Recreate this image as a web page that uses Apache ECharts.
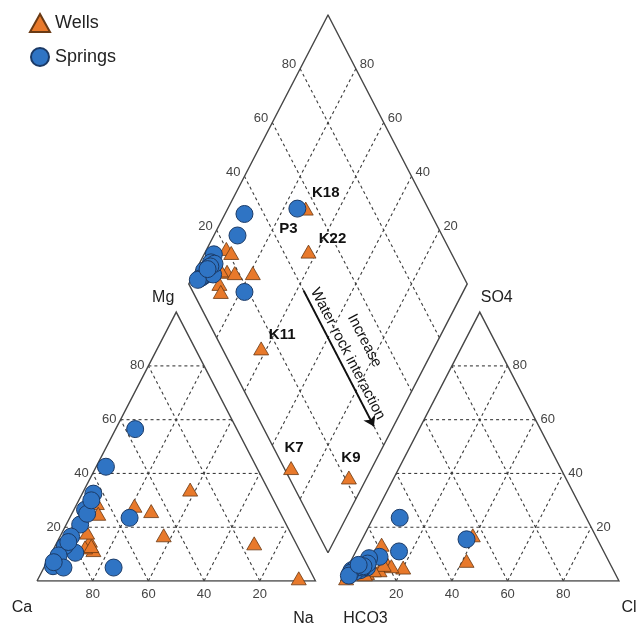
<!DOCTYPE html>
<html>
<head>
<meta charset="utf-8">
<script src="https://cdn.jsdelivr.net/npm/echarts@6/dist/echarts.min.js"></script>
<style>
  html, body { margin: 0; padding: 0; background: #ffffff; }
  #chart { width: 640px; height: 626px; }
</style>
</head>
<body>
<div id="chart"></div>
<script>
// ---- Major-ion composition (% of total meq) ----
const wellNames = ['K9', 'K7', 'K11', 'K22', 'K18', '', '', '', '', '', '', '', ''];
const wellCa    = [5.5, 15, 28, 46, 46, 51, 64, 65.5, 73.5, 74, 76.5, 73, 74];
const wellMg    = [1, 14, 34, 17, 26, 28, 29, 25, 15, 11.5, 12.5, 18, 13];
const wellNa    = [93.5, 71, 38, 37, 28, 21, 7, 9.5, 11.5, 14.5, 11, 9, 13];
const wellHCO3  = [78.5, 97.5, 86, 51, 44, 75, 80, 79, 84, 81.5, 89, 86, 90];
const wellSO4   = [13.5, 1, 5, 7.5, 17, 5, 6, 5.5, 4, 6, 3, 4, 2.5];
const wellCl    = [8, 1.5, 9, 41.5, 39, 20, 14, 15.5, 12, 12.5, 8, 10, 7.5];

const springNames = ['', '', 'P3', '', '', '', '', '', '', '', '', '', '', '', '', '', ''];
const springCa    = [36.5, 81, 70, 55, 54, 63.5, 69.5, 74, 79.5, 83.5, 87.5, 91.5, 88, 69.5, 65.5, 90.5, 81.5];
const springMg    = [56.5, 10.5, 5, 23.5, 42.5, 32.5, 26.5, 21, 16.5, 13, 9.5, 5.5, 5, 25, 30, 7, 14.5];
const springNa    = [7, 8.5, 25, 21.5, 3.5, 4, 4, 5, 4, 3.5, 3, 3, 7, 5.5, 4.5, 2.5, 4];
const springHCO3  = [67, 73.5, 47, 81.5, 85.5, 88, 90, 91, 93, 94, 92, 95, 89.5, 87, 89, 96, 90.5];
const springSO4   = [23.5, 11, 15.5, 9, 8.5, 5, 4.5, 4, 3.5, 4, 5, 3, 5, 6.5, 5.5, 2, 6];
const springCl    = [9.5, 15.5, 37.5, 9.5, 6, 7, 5.5, 5, 3.5, 2, 3, 2, 5.5, 6.5, 5.5, 2, 3.5];

const tickValues = [20, 40, 60, 80];

// ---- Piper geometry (ternary units: triangle side = 100) ----
const GAP = 9;              // space between cation and anion triangles
const DIAMOND_LIFT = 10.5;  // height of the diamond's lower vertex
const RIGHT0 = 100 + GAP;   // x of the anion triangle's HCO3 corner

function cation(ca, mg, na) {
  const t = ca + mg + na;
  const m = mg / t * 100, n = na / t * 100;
  return [n + m / 2, m];
}
function anion(hco3, so4, cl) {
  const t = hco3 + so4 + cl;
  const s = so4 / t * 100, c = cl / t * 100;
  return [RIGHT0 + c + s / 2, s];
}
// na: Na share of cations, hco3: HCO3 share of anions
function diamond(na, hco3) {
  const bx = 100 + GAP / 2;
  return [bx + (na - hco3) / 2, DIAMOND_LIFT + 200 - na - hco3];
}
function pct(v, a, b, c) { return v / (a + b + c) * 100; }

// label offsets for the named samples (px)
const labelOffsets = { K18: [20, -16], P3: [-9, 20], K22: [24, -13], K11: [21, -14], K7: [3, -20], K9: [2, -20] };

function buildPoints(names, ca, mg, na, hco3, so4, cl) {
  const pts = [];
  for (let i = 0; i < ca.length; i++) {
    pts.push({ value: cation(ca[i], mg[i], na[i]) });
    pts.push({ value: anion(hco3[i], so4[i], cl[i]) });
    const item = { value: diamond(pct(na[i], ca[i], mg[i], na[i]), pct(hco3[i], hco3[i], so4[i], cl[i])) };
    if (names[i]) {
      item.label = {
        show: true, formatter: names[i], position: 'inside', offset: labelOffsets[names[i]],
        fontFamily: 'Liberation Sans, Arial, sans-serif', fontWeight: 'bold', fontSize: 15, color: '#111'
      };
    }
    pts.push(item);
  }
  return pts;
}

// ---- frame and grid lines ----
const outlines = [
  { coords: [cation(100, 0, 0), cation(0, 0, 100), cation(0, 100, 0), cation(100, 0, 0)] },
  { coords: [anion(100, 0, 0), anion(0, 0, 100), anion(0, 100, 0), anion(100, 0, 0)] },
  { coords: [diamond(100, 100), diamond(0, 100), diamond(0, 0), diamond(100, 0), diamond(100, 100)] }
];
const gridLines = [];
tickValues.forEach(k => {
  gridLines.push({ coords: [cation(100 - k, k, 0), cation(0, k, 100 - k)] });
  gridLines.push({ coords: [cation(100 - k, 0, k), cation(0, 100 - k, k)] });
  gridLines.push({ coords: [cation(k, 0, 100 - k), cation(k, 100 - k, 0)] });
  gridLines.push({ coords: [anion(100 - k, k, 0), anion(0, k, 100 - k)] });
  gridLines.push({ coords: [anion(100 - k, 0, k), anion(0, 100 - k, k)] });
  gridLines.push({ coords: [anion(k, 0, 100 - k), anion(k, 100 - k, 0)] });
  gridLines.push({ coords: [diamond(k, 100), diamond(k, 0)] });
  gridLines.push({ coords: [diamond(100, k), diamond(0, k)] });
});

const arrowFrom = diamond(42.5, 60);
const arrowTo = diamond(93, 60);

const FONT = 'Liberation Sans, Arial, sans-serif';
const chart = echarts.init(document.getElementById('chart'));

chart.setOption({
  animation: false,
  grid: { left: 37, right: 21, top: 15, bottom: 45 },
  xAxis: { type: 'value', min: 0, max: 209, show: false },
  yAxis: { type: 'value', min: 0, max: 210.5, show: false },
  legend: {
    data: ['Wells', 'Springs'], orient: 'vertical', left: 24, top: 8,
    itemWidth: 20, itemHeight: 18, itemGap: 14,
    textStyle: { fontFamily: FONT, fontSize: 18, color: '#222' }
  },
  series: [
    {
      type: 'lines', coordinateSystem: 'cartesian2d', polyline: true, silent: true, z: 1,
      lineStyle: { color: '#3c3c3c', width: 1.1, type: [3, 3], opacity: 1 },
      data: gridLines
    },
    {
      type: 'lines', coordinateSystem: 'cartesian2d', polyline: true, silent: true, z: 2,
      lineStyle: { color: '#474747', width: 1.4, opacity: 1 },
      data: outlines
    },
    {
      type: 'lines', coordinateSystem: 'cartesian2d', silent: true, z: 3,
      symbol: ['none', 'arrow'], symbolSize: 10,
      lineStyle: { color: '#111', width: 2, opacity: 1 },
      data: [{ coords: [arrowFrom, arrowTo] }]
    },
    {
      name: 'Wells', type: 'scatter', symbol: 'triangle', symbolSize: [15, 13], clip: false, z: 4,
      itemStyle: { color: '#E8792B', borderColor: '#6a3a14', borderWidth: 0.8, opacity: 1 },
      data: buildPoints(wellNames, wellCa, wellMg, wellNa, wellHCO3, wellSO4, wellCl)
    },
    {
      name: 'Springs', type: 'scatter', symbol: 'circle', symbolSize: 17, clip: false, z: 5,
      itemStyle: { color: '#2F74C4', borderColor: '#1B3A66', borderWidth: 1, opacity: 1 },
      data: buildPoints(springNames, springCa, springMg, springNa, springHCO3, springSO4, springCl)
    }
  ]
});

// ---- tick labels, corner titles and the annotation ----
function px(p) { return chart.convertToPixel({ gridIndex: 0 }, p); }
const texts = [];
function addText(p, str, dx, dy, align, size, color) {
  const q = px(p);
  texts.push({
    type: 'text', x: q[0] + dx, y: q[1] + dy, silent: true,
    style: { text: str, fontFamily: FONT, fontSize: size, fill: color, align: align, verticalAlign: 'middle' }
  });
}
tickValues.forEach(k => {
  addText(cation(k, 0, 100 - k), String(k), 0, 13, 'center', 13, '#444');
  addText(cation(100 - k, k, 0), String(k), -4, 0, 'right', 13, '#444');
  addText(anion(100 - k, 0, k), String(k), 0, 13, 'center', 13, '#444');
  addText(anion(0, k, 100 - k), String(k), 5, 0, 'left', 13, '#444');
  addText(diamond(0, 100 - k), String(k), -4, -4, 'right', 13, '#444');
  addText(diamond(100 - k, 0), String(k), 4, -4, 'left', 13, '#444');
});
addText(cation(100, 0, 0), 'Ca', -15, 27, 'center', 16, '#222');
addText(cation(0, 0, 100), 'Na', -12, 38, 'center', 16, '#222');
addText(cation(0, 100, 0), 'Mg', -13, -15, 'center', 16, '#222');
addText(anion(100, 0, 0), 'HCO3', 25, 38, 'center', 16, '#222');
addText(anion(0, 0, 100), 'Cl', 10, 27, 'center', 16, '#222');
addText(anion(0, 100, 0), 'SO4', 17, -15, 'center', 16, '#222');

const a0 = px(arrowFrom), a1 = px(arrowTo);
const dx = a1[0] - a0[0], dy = a1[1] - a0[1];
const len = Math.hypot(dx, dy);
const ux = dx / len, uy = dy / len;     // along the arrow
const nx = uy, ny = -ux;                // normal, towards the upper right
const ang = -Math.atan2(dy, dx);
const mx = (a0[0] + a1[0]) / 2, my = (a0[1] + a1[1]) / 2;
[['Water-rock interaction', 0, 10], ['Increase', -4, 31]].forEach(([str, along, off]) => {
  texts.push({
    type: 'text', silent: true, rotation: ang,
    x: mx + ux * along + nx * off, y: my + uy * along + ny * off,
    style: { text: str, fontFamily: FONT, fontSize: 15, fill: '#111', align: 'center', verticalAlign: 'middle' }
  });
});
chart.setOption({ graphic: texts });
</script>
</body>
</html>
